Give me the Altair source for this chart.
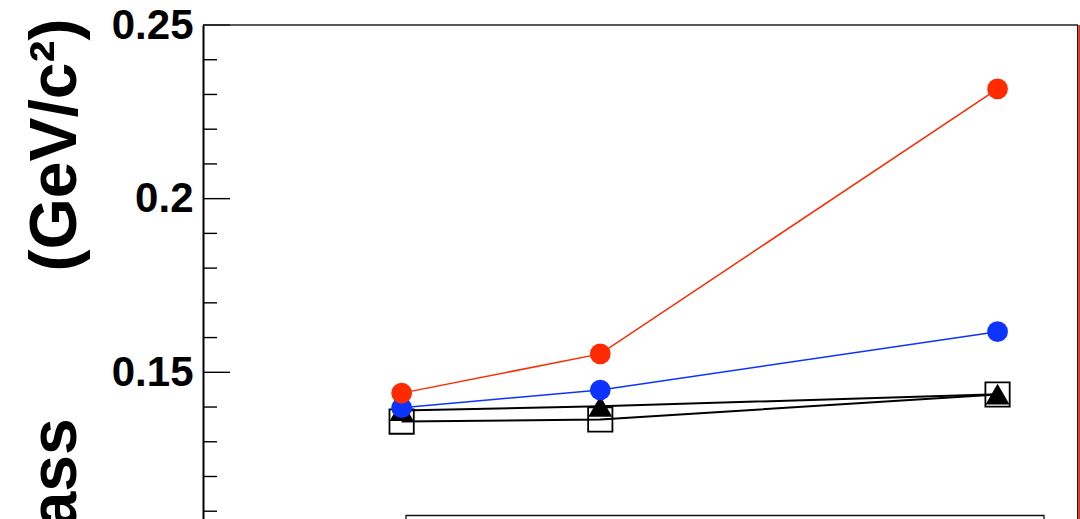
import altair as alt
import pandas as pd

# x positions of the three measurements
x_vals = [1, 2, 4]
# series values (GeV/c^2)
red_vals = [0.1440, 0.1553, 0.2316]
blue_vals = [0.1398, 0.1449, 0.1617]
tri_vals = [0.1390, 0.1402, 0.1437]
sq_vals = [0.1358, 0.1364, 0.1436]

major_ticks = [0.15, 0.20, 0.25]
minor_ticks = [0.11, 0.12, 0.13, 0.14, 0.16, 0.17, 0.18, 0.19, 0.21, 0.22, 0.23, 0.24]

W, H = 874, 494
Y_DOM = [0.10776, 0.25]
X_DOM = [0, 4.4]

RED = "#ff2a00"
BLUE = "#0d33ff"
FONT = "Liberation Sans"

xs = alt.Scale(domain=X_DOM, nice=False, zero=False)
ys = alt.Scale(domain=Y_DOM, nice=False, zero=False)


def df(vals):
    return pd.DataFrame({"x": x_vals, "y": vals})


yaxis = alt.Axis(
    values=major_ticks, format=".2~f", ticks=False, tickSize=0,
    labelFont=FONT, labelFontSize=42, labelFontWeight="bold", labelColor="black",
    labelPadding=10, labelBaseline="middle",
    domainColor="black", domainWidth=2, grid=False,
    title="Mass\u00a0\u00a0\u00a0\u00a0\u00a0\u00a0\u00a0\u00a0(GeV/c\u00b2)",
    titleFont=FONT, titleFontSize=66, titleFontWeight="bold", titleColor="black",
    titleAngle=270, titleAlign="right", titleBaseline="alphabetic",
    titleX=-128, titleY=-7,
)


def Y(field):
    return alt.Y(field, scale=ys, axis=yaxis)


def series_line(vals, color, width):
    return alt.Chart(df(vals)).mark_line(color=color, strokeWidth=width).encode(
        x=alt.X("x:Q", scale=xs, axis=None),
        y=Y("y:Q"),
    )


def series_pts(vals, shape, size, filled, color, stroke_w=0):
    return alt.Chart(df(vals)).mark_point(
        shape=shape, size=size, filled=filled, color=color, opacity=1,
        strokeWidth=stroke_w,
    ).encode(
        x=alt.X("x:Q", scale=xs, axis=None),
        y=Y("y:Q"),
    )


minor = alt.Chart(pd.DataFrame({"y": minor_ticks})).mark_rule(color="black", strokeWidth=1.4).encode(
    y=Y("y:Q"), x=alt.value(0), x2=alt.value(14)
)
major = alt.Chart(pd.DataFrame({"y": major_ticks})).mark_rule(color="black", strokeWidth=1.4).encode(
    y=Y("y:Q"), x=alt.value(0), x2=alt.value(27)
)

frame_top = alt.Chart(pd.DataFrame({"a": [0]})).mark_rule(color="#222222", strokeWidth=1.6).encode(
    x=alt.value(0), x2=alt.value(W + 1), y=alt.value(0)
)
frame_right = alt.Chart(pd.DataFrame({"a": [0]})).mark_rule(color="#111111", strokeWidth=1.5).encode(
    x=alt.value(W + 0.8), y=alt.value(0), y2=alt.value(H + 30)
)
red_edge = alt.Chart(pd.DataFrame({"a": [0]})).mark_rule(color="#ff2a00", strokeWidth=1.5).encode(
    x=alt.value(W + 2.3), y=alt.value(0), y2=alt.value(H + 30)
)
legend_box = alt.Chart(pd.DataFrame({"a": [0]})).mark_rect(
    fill="white", stroke="#111111", strokeWidth=1.3
).encode(
    x=alt.value(203), x2=alt.value(841), y=alt.value(490.5), y2=alt.value(600)
)

chart = alt.layer(
    series_line(sq_vals, "black", 2),
    series_pts(sq_vals, "square", 590, False, "black", 1.8),
    series_line(tri_vals, "black", 2),
    series_pts(tri_vals, "triangle-up", 580, True, "black"),
    series_line(blue_vals, BLUE, 1.5),
    series_pts(blue_vals, "circle", 430, True, BLUE),
    series_line(red_vals, RED, 1.5),
    series_pts(red_vals, "circle", 430, True, RED),
    minor, major, frame_top, frame_right, red_edge, legend_box,
).properties(
    width=W, height=H,
    padding={"left": 203, "top": 25, "right": 3, "bottom": 0},
    autosize=alt.AutoSizeParams(type="none"),
).configure_view(stroke=None)

chart.save("out.html", embed_options={"renderer": "svg", "actions": False})
